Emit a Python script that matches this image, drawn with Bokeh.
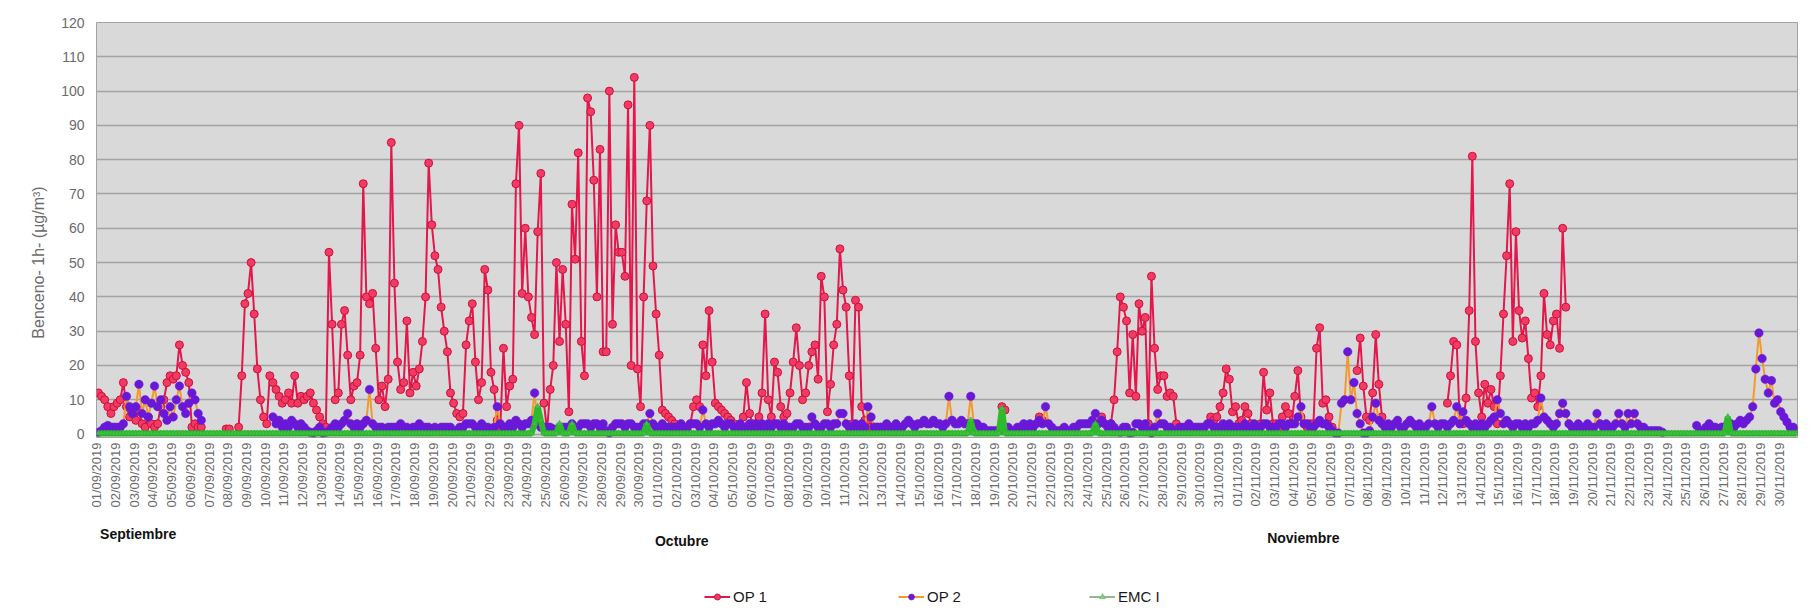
import math
import pandas as pd
from bokeh.plotting import figure
from bokeh.layouts import row, column
from bokeh.models import Range1d, FixedTicker, Label, Legend, LegendItem
from bokeh.embed import file_html
from bokeh.resources import INLINE

N = float("nan")

# ---- data: 6 readings per day (4-hour blocks), benceno 1h (µg/m3) ----
op1_sep = [
    [12, 11, 10, 8, 6, 8], [9, 10, 15, 8, 5, 6], [4, 7, 3, 2, 5, 3], [2, 3, 8, 10, 15, 17],
    [16, 17, 26, 20, 18, 15], [2, 3, 2, 2, N, N], [N, N, N, N, N, 1.5], [1.5, N, N, 2, 17, 38],
    [41, 50, 35, 19, 10, 5], [3, 17, 15, 13, 11, 9], [10, 12, 9, 17, 9, 11], [10, 11, 12, 9, 7, 5],
    [3, 2, 53, 32, 10, 12], [32, 36, 23, 10, 14, 15], [23, 73, 40, 38, 41, 25], [10, 14, 8, 16, 85, 44],
    [21, 13, 15, 33, 12, 18], [14, 19, 27, 40, 79, 61], [52, 48, 37, 30, 24, 12], [9, 6, 5, 6, 26, 33],
    [38, 21, 10, 15, 48, 42], [18, 13, 4, 2, 25, 8], [14, 16, 73, 90, 41, 60], [40, 34, 29, 59, 76, 9],
    [1, 13, 20, 50, 27, 48], [32, 6.5, 67, 51, 82, 27], [17, 98, 94, 74, 40, 83], [24, 24, 100, 32, 61, 53],
    [53, 46, 96, 20, 104, 19], [8, 40, 68, 90, 49, 35],
]
op1_oct = [
    [23, 7, 6, 5, 4, 3], [2, 1, 1, 1, 3, 8], [10, 8, 26, 17, 36, 21], [9, 8, 7, 6, 5, 4],
    [3, 2, 2, 5, 15, 6], [3, 2, 5, 12, 35, 10], [5, 21, 18, 8, 5, 6], [12, 21, 31, 20, 10, 12],
    [20, 24, 26, 16, 46, 40], [6.5, 14.5, 26, 32, 54, 42], [37, 17, 3, 39, 37, 8], [4, 3, 2, 2, 2, 2],
    [N, N, N, N, N, N], [N, N, N, N, N, N], [N, N, N, N, N, N], [N, N, N, N, N, N],
    [N, N, N, N, N, N], [N, N, N, N, N, N], [N, N, 8, 7, N, N], [N, N, N, N, N, N],
    [N, N, 5, 4, N, N], [N, N, N, N, N, N], [N, N, N, N, N, N], [N, N, N, N, 5, N],
    [N, 3, 10, 24, 40, 37], [33, 12, 29, 11, 38, 30], [34, 3, 46, 25, 13, 17], [17, 11, 12, 11, 3, N],
    [N, N, N, N, N, N], [N, N, N, 5, 4, 5], [8, 12, 19, 16, 6.5, 8],
]
op1_nov = [
    [3, 4, 8, 6, 3, 2], [2, 3, 18, 7, 12, 3], [3, 2, 5, 8, 6, 3], [11, 18.5, 5, 3, 2, 3],
    [3, 25, 31, 9, 10, 5], [2, N, N, N, N, N], [N, N, 18.5, 28, 14, 5], [4, 12, 29, 14.5, 5, N],
    [N, N, N, N, N, N], [N, N, N, N, N, N], [N, N, N, N, N, N], [N, 9, 17, 27, 26, 3],
    [3, 10.5, 36, 81, 27, 12], [5, 14.5, 9, 13, 8, 3], [17, 35, 52, 73, 27, 59], [36, 28, 33, 22, 10.5, 12],
    [8, 17, 41, 29, 26, 33], [35, 25, 60, 37, N, N], [N, N, N, N, N, N], [N, N, N, N, N, N],
    [N, N, N, N, N, N], [N, N, N, N, N, N], [N, N, N, N, N, N], [N, N, N, N, N, N],
    [N, N, N, N, N, N], [N, N, N, N, N, N], [N, N, N, N, N, N], [N, N, N, N, N, N],
    [N, N, N, N, N, N], [N, N, N, N, N, N],
]

op2_sep = [
    [0.5, 1, 2, 2.5, 2, 2], [2, 2, 3, 11, 8, 6], [8, 14.5, 6, 10, 5, 9], [14, 8, 10, 6, 4, 8],
    [5, 10, 14, 8, 6, 9], [12, 10, 6, 4, N, N], [N, N, N, N, N, N], [N, N, N, N, N, N],
    [N, N, N, N, N, N], [N, N, 5, 3, 4, 2], [3, 2, 4, 3, 2, 3], [2, 1, 0.5, 0.3, 1, 2],
    [0.3, 0.5, 1, 2, 3, 2], [3, 4, 6, 3, 2, 3], [2, 3, 4, 13, 3, 2], [2, 2, 1.5, 2, 2, 2],
    [2, 3, 2, 2, 1.5, 2], [2, 3, 2, 2, 2, 1.5], [2, 1.5, 2, 2, 2, 2], [1, 1, 2, 2, 3, 3],
    [3, 2, 2, 3, 2, 2], [1.5, 2, 8, 3, 2, 2], [3, 2, 4, 3, 2, 3], [3, 4, 12, 3, 2, 2],
    [2, 2, 1.5, 1, 2, 2], [2, 2, 3, 2, 2, 3], [3, 3, 2, 3, 3, 2], [3, 1, 0.3, 2, 3, 3],
    [3, 2, 3, 3, 2, 2], [2, 3, 3, 6, 3, 2],
]
op2_oct = [
    [2, 3, 2, 2, 2, 2], [2, 3, 2, 2, 3, 3], [3, 2, 7, 3, 2, 3], [3, 4, 3, 2, 3, 3],
    [2, 2, 3, 2, 2, 3], [2, 3, 2, 3, 2, 3], [2, 3, 3, 2, 3, 2], [2, 2, 3, 3, 2, 2],
    [2, 5, 3, 2, 2, 3], [3, 2, 3, 3, 6, 6], [3, 2, 2, 3, 2, 3], [2, 8, 5, 2, 2, 2],
    [2, 3, 2, 2, 3, 2], [2, 3, 4, 3, 2, 3], [3, 4, 3, 3, 4, 3], [3, 2, 3, 11, 4, 3],
    [3, 4, 3, 3, 11, 3], [3, 2, 2, 1, 1, 1], [1, 1, 2, 2, 2, 1], [1, 2, 2, 3, 2, 3],
    [2, 3, 4, 3, 8, 3], [2, 1, 1, 1, 2, 1], [1, 2, 2, 3, 3, 3], [3, 4, 6, 3, 4, 3],
    [2, 3, 2, 1, 0.5, 2], [2, 0.3, 0.5, 3, 3, 2], [3, 1, 0.3, 2, 6, 3], [3, 2, 2, 1, 1, 2],
    [2, 2, 3, 2, 2, 2], [2, 2, 3, 3, 2, 2], [2, 3, 2, 3, 2, 2],
]
op2_nov = [
    [2, 2, 3, 2, 2, 3], [2, 2, 3, 3, 2, 2], [2, 3, 3, 2, 3, 3], [3, 5, 8, 3, 3, 2],
    [2, 3, 4, 3, 3, 2], [1, 0.3, 0.3, 9, 10, 24], [10, 15, 6, 3, 0.3, 0.3], [1, 5, 9, 4, 3, 2],
    [3, 2, 3, 4, 2, 2], [3, 4, 3, 2, 3, 2], [2, 3, 8, 3, 2, 3], [3, 2, 3, 4, 8, 3],
    [6.5, 4, 3, 2, 3, 2], [3, 2, 3, 4, 5, 10], [6, 3, 4, 3, 2, 3], [3, 2, 3, 2, 3, 3],
    [4, 10.5, 5, 4, 3, 2], [3, 6, 9, 6, 3, 2], [2, 3, 2, 2, 3, 2], [2, 6, 3, 2, 3, 2],
    [2, 3, 6, 3, 2, 6], [3, 6, 3, 2, 2, 1], [1, 1, 1, 1, 0.5, N], [N, N, N, N, N, N],
    [N, N, N, 2.5, 1, 1], [2, 3, 2, 2, 1, 2], [2, 3, 3, 2, 3, 4], [3, 4, 5, 8, 19, 29.5],
    [22, 16, 12, 15.6, 9, 10], [6.5, 5, 3.5, 2, 2, 1],
]

emc_sep = [
    [.2, .2, .2, .2, .2, .2], [.2, .2, .2, .2, .2, .2], [.2, .2, .2, .2, .2, .2], [.2, .2, .2, .2, .2, .2],
    [.2, .2, .2, .2, .2, .2], [.2, .2, .2, .2, .2, .2], [.2, .2, .2, .2, .2, .2], [.2, .2, .2, .2, .2, .2],
    [.2, .2, .2, .2, .2, .2], [.2, .2, .2, .2, .2, .2], [.2, .2, .2, .2, .2, .2], [.2, .2, .2, .2, .2, .2],
    [.2, .2, .2, .2, .2, .2], [.2, .2, .2, .2, .2, .2], [.2, .2, .2, .2, .2, .2], [.2, .2, .2, .2, .2, .2],
    [.2, .2, .2, .2, .2, .2], [.2, .2, .2, .2, .2, .2], [.2, .2, .2, .2, .2, .2], [.2, .2, .2, .2, .2, .2],
    [.2, .2, .2, .2, .2, .2], [.2, .2, .2, .2, .2, .2], [.2, .2, .2, .2, .2, .2], [.2, .2, 3, 8, 4, .2],
    [.2, .2, .2, .2, 3, .2], [.2, .2, 3, .2, .2, .2], [.2, .2, .2, .2, .2, .2], [.2, .2, .2, .2, .2, .2],
    [.2, .2, .2, .2, .2, .2], [.2, .2, 3, .2, .2, .2],
]
emc_oct = [
    [.2, .2, .2, .2, .2, .2], [.2, .2, .2, .2, .2, .2], [.2, .2, .2, .2, .2, .2], [.2, .2, .2, .2, .2, .2],
    [.2, .2, .2, .2, .2, .2], [.2, .2, .2, .2, .2, .2], [.2, .2, .2, .2, .2, .2], [.2, .2, .2, .2, .2, .2],
    [.2, .2, .2, .2, .2, .2], [.2, .2, .2, .2, .2, .2], [.2, .2, .2, .2, .2, .2], [.2, .2, .2, .2, .2, .2],
    [.2, .2, .2, .2, .2, .2], [.2, .2, .2, .2, .2, .2], [.2, .2, .2, .2, .2, .2], [.2, .2, .2, .2, .2, .2],
    [.2, .2, .2, .2, 4, .2], [.2, .2, .2, .2, .2, .2], [.2, .2, 7.5, .2, .2, .2], [.2, .2, .2, .2, .2, .2],
    [.2, .2, .2, .2, .2, .2], [.2, .2, .2, .2, .2, .2], [.2, .2, .2, .2, .2, .2], [.2, .2, 3, .2, .2, .2],
    [.2, .2, .2, .2, .2, .2], [.2, .2, .2, .2, .2, .2], [.2, .2, .2, .2, .2, .2], [.2, .2, .2, .2, .2, .2],
    [.2, .2, .2, .2, .2, .2], [.2, .2, .2, .2, .2, .2], [.2, .2, .2, .2, .2, .2],
]
emc_nov = [
    [.2, .2, .2, .2, .2, .2], [.2, .2, .2, .2, .2, .2], [.2, .2, .2, .2, .2, .2], [.2, .2, .2, .2, .2, .2],
    [.2, .2, .2, .2, .2, .2], [.2, .2, .2, .2, .2, .2], [.2, .2, .2, .2, .2, .2], [.2, .2, .2, .2, .2, .2],
    [.2, .2, .2, .2, .2, .2], [.2, .2, .2, .2, .2, .2], [.2, .2, .2, .2, .2, .2], [.2, .2, .2, .2, .2, .2],
    [.2, .2, .2, .2, .2, .2], [.2, .2, .2, .2, .2, .2], [.2, .2, .2, .2, .2, .2], [.2, .2, .2, .2, .2, .2],
    [.2, .2, .2, .2, .2, .2], [.2, .2, .2, .2, .2, .2], [.2, .2, .2, .2, .2, .2], [.2, .2, .2, .2, .2, .2],
    [.2, .2, .2, .2, .2, .2], [.2, .2, .2, .2, .2, .2], [.2, .2, .2, .2, .2, .2], [.2, .2, .2, .2, .2, .2],
    [.2, .2, .2, .2, .2, .2], [.2, .2, .2, .2, .2, .2], [.2, 5, .2, .2, .2, .2], [.2, .2, .2, .2, .2, .2],
    [.2, .2, .2, .2, .2, .2], [.2, .2, .2, .2, .2, .2],
]

series_names = ["OP 1", "OP 2", "EMC I"]
month_names = ["Septiembre", "Octubre", "Noviembre"]
y_title = "Benceno- 1h- (µg/m³)"
slot_hours = [2, 6, 10, 14, 18, 22]
day_labels = [d.strftime("%d/%m/%Y") for d in pd.date_range("2019-09-01", "2019-11-30", freq="D")]

def flat(rows):
    return [v for r in rows for v in r]

op1 = flat(op1_sep + op1_oct + op1_nov)
op2 = flat(op2_sep + op2_oct + op2_nov)
emc = flat(emc_sep + emc_oct + emc_nov)
ndays = len(day_labels)
xs = [d * 24 + h for d in range(ndays) for h in slot_hours]

FONT = "Liberation Sans"
TICK_COLOR = "#6b6b6b"

# styles
S1_LINE = dict(line_color="#e3174b", line_width=2)
S1_MARK = dict(marker="circle", size=8, fill_color="#f23a62", line_color="#c8123e", line_width=1)
S2_LINE = dict(line_color="#f39a2e", line_width=2)
S2_MARK = dict(marker="circle", size=8.5, fill_color="#6a18d8", line_color="#6a18d8", line_width=0.5)
S3_LINE = dict(line_color="#2dbb2d", line_width=6)
S3_MARK = dict(marker="triangle", size=6, fill_color="#3cc43c", line_color="#2fa52f", line_width=0.5)

LEFT_W = 58
MAIN_W = 1747
MAIN_H = 515
BOT_H = 92

# ---------------- main chart ----------------
p = figure(width=MAIN_W, height=MAIN_H, output_backend="svg", toolbar_location=None,
           x_range=Range1d(-0.5, ndays * 24 - 0.5), y_range=Range1d(-1, 120),
           min_border_left=36, min_border_right=8, min_border_top=22, min_border_bottom=78)
p.background_fill_color = "#d9d9d9"
p.border_fill_color = "white"
p.outline_line_color = "#a3a3a3"
p.outline_line_width = 1

p.xgrid.grid_line_color = None
p.ygrid.grid_line_color = "#a3a3a3"
p.ygrid.grid_line_width = 1.3

yt = list(range(0, 121, 10))
p.yaxis.ticker = FixedTicker(ticks=yt)
p.ygrid.ticker = FixedTicker(ticks=yt)
p.yaxis.axis_line_color = None
p.yaxis.major_tick_line_color = None
p.yaxis.minor_tick_line_color = None
p.yaxis.major_tick_out = 0
p.yaxis.major_label_standoff = 12
p.yaxis.major_label_text_font = FONT
p.yaxis.major_label_text_font_size = "14px"
p.yaxis.major_label_text_color = TICK_COLOR

xt = [d * 24 for d in range(ndays)]
p.xaxis.ticker = FixedTicker(ticks=xt)
p.xaxis.major_label_overrides = {t: lab for t, lab in zip(xt, day_labels)}
p.xaxis.major_label_orientation = math.pi / 2
p.xaxis.axis_line_color = None
p.xaxis.major_tick_line_color = None
p.xaxis.minor_tick_line_color = None
p.xaxis.major_tick_out = 0
p.xaxis.major_label_standoff = 5
p.xaxis.major_label_text_font = FONT
p.xaxis.major_label_text_font_size = "13px"
p.xaxis.major_label_text_color = TICK_COLOR

p.line(xs, op1, **S1_LINE)
p.scatter(xs, op1, **S1_MARK)
p.line(xs, op2, **S2_LINE)
p.scatter(xs, op2, **S2_MARK)
p.line(xs, emc, **S3_LINE)
p.scatter(xs, emc, **S3_MARK)

# ---------------- left strip with the y title ----------------
pl = figure(width=LEFT_W, height=MAIN_H, output_backend="svg", toolbar_location=None,
            x_range=Range1d(0, LEFT_W), y_range=Range1d(0, MAIN_H),
            x_axis_location=None, y_axis_location=None,
            min_border_left=0, min_border_right=0, min_border_top=0, min_border_bottom=0)
pl.grid.grid_line_color = None
pl.outline_line_color = None
pl.background_fill_color = "white"
pl.border_fill_color = "white"
pl.add_layout(Label(x=38, y=MAIN_H - 262, text=y_title, angle=math.pi / 2, text_align="center",
                    text_baseline="middle", text_font=FONT, text_font_size="16px",
                    text_color=TICK_COLOR))

# ---------------- bottom strip: month captions + legend ----------------
pb = figure(width=MAIN_W, height=BOT_H, output_backend="svg", toolbar_location=None,
            x_range=p.x_range, y_range=Range1d(0, BOT_H),
            x_axis_location=None, y_axis_location=None,
            min_border_left=36, min_border_right=8, min_border_top=0, min_border_bottom=0)
pb.grid.grid_line_color = None
pb.outline_line_color = None
pb.background_fill_color = "white"
pb.border_fill_color = "white"

month_x = [53, 751, 1549]
month_y = [74, 67, 70]
for name, mx, my in zip(month_names, month_x, month_y):
    pb.add_layout(Label(x=mx, y=my, text=name, text_align="center", text_baseline="middle",
                        text_font=FONT, text_font_size="14px", text_font_style="bold",
                        text_color="#111111"))

# legend-only renderers (no visible data)
l1 = pb.line([N], [N], **S1_LINE)
m1 = pb.scatter([N], [N], **S1_MARK)
l2 = pb.line([N], [N], **S2_LINE)
m2 = pb.scatter([N], [N], **S2_MARK)
l3 = pb.line([N], [N], line_color="#6f9f6f", line_width=1.5)
m3 = pb.scatter([N], [N], marker="triangle", size=6, fill_color="#7fcf7f", line_color="#5faf5f", line_width=0.5)

leg_positions = [(608, 2), (802, 2), (993, 2)]
leg_renderers = [[l1, m1], [l2, m2], [l3, m3]]
for name, loc, rends in zip(series_names, leg_positions, leg_renderers):
    leg = Legend(items=[LegendItem(label=name, renderers=rends)], location=loc,
                 orientation="horizontal", padding=0, margin=0, spacing=0,
                 glyph_width=26, glyph_height=15, label_height=15, label_standoff=3,
                 label_text_font=FONT, label_text_font_size="15px", label_text_color="#1a1a1a",
                 border_line_color=None, background_fill_alpha=0)
    pb.add_layout(leg, "center")

layout = row(pl, column(p, pb, spacing=0), spacing=0)
open("out.html", "w").write(file_html(layout, INLINE))
